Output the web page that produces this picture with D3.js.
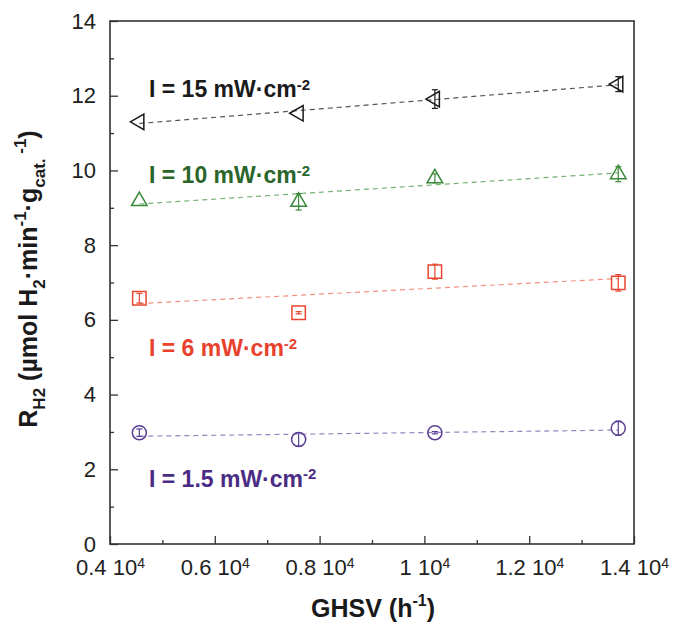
<!DOCTYPE html>
<html>
<head>
<meta charset="utf-8">
<script src="https://cdn.jsdelivr.net/npm/d3@7"></script>
<style>
  body { margin: 0; background: #fff; }
  text { font-family: "Liberation Sans", Arial, sans-serif; }
</style>
</head>
<body>
<div id="chart"></div>
<script>
// GHSV values, in units of 10^4 h^-1
const ghsv = [0.456, 0.76, 1.02, 1.37];

// H2 rates (umol H2 / min / g cat.) and their error bars
const rate15 = [11.3, 11.53, 11.91, 12.31];
const err15 = [0, 0, 0.25, 0.2];
const rate10 = [9.18, 9.16, 9.79, 9.9];
const err10 = [0, 0.22, 0.12, 0.2];
const rate6 = [6.58, 6.19, 7.29, 6.99];
const err6 = [0.13, 0.03, 0.2, 0.22];
const rate1p5 = [2.98, 2.8, 2.98, 3.1];
const err1p5 = [0.1, 0.18, 0.03, 0.19];

const seriesNames = ["15", "10", "6", "1.5"];
const xTicks = [0.4, 0.6, 0.8, 1.0, 1.2, 1.4];
const xTickText = ["0.4", "0.6", "0.8", "1", "1.2", "1.4"];
const yTicks = [0, 2, 4, 6, 8, 10, 12, 14];

// Set up dimensions and margins
const margin = { top: 21, right: 39, bottom: 91, left: 110 };
const width = 673 - margin.left - margin.right;
const height = 635 - margin.top - margin.bottom;

const svg = d3.select("#chart")
    .append("svg")
    .attr("width", 673)
    .attr("height", 635);

const g = svg.append("g")
    .attr("transform", `translate(${margin.left},${margin.top})`);

const x = d3.scaleLinear().domain([0.4, 1.4]).range([0, width]);
const y = d3.scaleLinear().domain([0, 14]).range([height, 0]);

// styles per series
const styles = [
    { rates: rate15, errs: err15, mark: "#1a1a1a", line: "#555", label: "#1a1a1a", shape: "left", labelY: 11.96 },
    { rates: rate10, errs: err10, mark: "#3b8a3b", line: "#72b072", label: "#2a652a", shape: "up", labelY: 9.66 },
    { rates: rate6, errs: err6, mark: "#e8452f", line: "#f2917f", label: "#e8412c", shape: "square", labelY: 5.03 },
    { rates: rate1p5, errs: err1p5, mark: "#5a3e95", line: "#9485c0", label: "#4a2c85", shape: "circle", labelY: 1.53 }
];

// X axis (ticks pointing inward)
const xAxis = g.append("g")
    .attr("transform", `translate(0,${height})`)
    .call(d3.axisBottom(x).tickValues(xTicks).tickSize(-8).tickPadding(15).tickFormat(""));
xAxis.select(".domain").remove();
xAxis.selectAll(".tick line").attr("stroke", "#333").attr("stroke-width", 1.3);
xAxis.selectAll(".tick text").each(function(d, i) {
    const t = d3.select(this)
        .attr("fill", "#222")
        .style("font-size", "22px")
        .attr("dy", "0.71em");
    t.append("tspan").text(xTickText[i] + " 10");
    t.append("tspan").attr("dy", "-0.45em").style("font-size", "14px").text("4");
});

g.append("g")
    .attr("transform", `translate(0,${height})`)
    .call(d3.axisBottom(x).tickValues(d3.range(0.5, 1.4, 0.2)).tickSize(-4).tickFormat(""))
    .call(a => a.select(".domain").remove())
    .selectAll(".tick line").attr("stroke", "#333").attr("stroke-width", 1.3);

// Y axis
const yAxis = g.append("g")
    .call(d3.axisLeft(y).tickValues(yTicks).tickSize(-8).tickPadding(14));
yAxis.select(".domain").remove();
yAxis.selectAll(".tick line").attr("stroke", "#333").attr("stroke-width", 1.3);
yAxis.selectAll(".tick text")
    .attr("fill", "#222")
    .style("font-size", "22px");

g.append("g")
    .call(d3.axisLeft(y).tickValues(d3.range(1, 14, 2)).tickSize(-4).tickFormat(""))
    .call(a => a.select(".domain").remove())
    .selectAll(".tick line").attr("stroke", "#333").attr("stroke-width", 1.3);

// frame
g.append("rect")
    .attr("width", width)
    .attr("height", height)
    .attr("fill", "none")
    .attr("stroke", "#333")
    .attr("stroke-width", 1.6);

// marker shapes
function markerPath(shape) {
    if (shape === "left") return d3.symbol(d3.symbolTriangle, 105)();
    if (shape === "up") return d3.symbol(d3.symbolTriangle, 105)();
    if (shape === "square") return d3.symbol(d3.symbolSquare, 180)();
    return d3.symbol(d3.symbolCircle, 155)();
}

styles.forEach((s, si) => {
    const pts = ghsv.map((gx, i) => ({ gx: gx, r: s.rates[i], e: s.errs[i] }));

    // least squares fit line
    const mx = d3.mean(pts, d => d.gx);
    const my = d3.mean(pts, d => d.r);
    const slope = d3.sum(pts, d => (d.gx - mx) * (d.r - my)) / d3.sum(pts, d => (d.gx - mx) ** 2);
    const x0 = ghsv[0], x1 = ghsv[ghsv.length - 1];
    g.append("line")
        .attr("x1", x(x0)).attr("y1", y(my + slope * (x0 - mx)))
        .attr("x2", x(x1)).attr("y2", y(my + slope * (x1 - mx)))
        .attr("stroke", s.line)
        .attr("stroke-width", 1.2)
        .attr("stroke-dasharray", "5,4");

    // error bars
    const eb = g.selectAll(".err" + si)
        .data(pts.filter(d => d.e > 0))
        .enter()
        .append("g")
        .attr("stroke", s.mark)
        .attr("stroke-width", 1.2);
    eb.append("line")
        .attr("x1", d => x(d.gx)).attr("x2", d => x(d.gx))
        .attr("y1", d => y(d.r + d.e)).attr("y2", d => y(d.r - d.e));
    eb.append("line")
        .attr("x1", d => x(d.gx) - 3).attr("x2", d => x(d.gx) + 3)
        .attr("y1", d => y(d.r + d.e)).attr("y2", d => y(d.r + d.e));
    eb.append("line")
        .attr("x1", d => x(d.gx) - 3).attr("x2", d => x(d.gx) + 3)
        .attr("y1", d => y(d.r - d.e)).attr("y2", d => y(d.r - d.e));

    // markers
    g.selectAll(".mk" + si)
        .data(pts)
        .enter()
        .append("path")
        .attr("d", markerPath(s.shape))
        .attr("transform", d => `translate(${x(d.gx)},${y(d.r)})` + (s.shape === "left" ? " rotate(-90)" : ""))
        .attr("fill", "none")
        .attr("stroke", s.mark)
        .attr("stroke-width", 1.5);

    // series label
    const lt = g.append("text")
        .attr("x", 39)
        .attr("y", y(s.labelY))
        .attr("fill", s.label)
        .style("font-size", "23px")
        .style("font-weight", "bold");
    lt.append("tspan").text(`I = ${seriesNames[si]} mW·cm`);
    lt.append("tspan").attr("dy", "-0.5em").style("font-size", "15px").text("-2");
});

// rich text helper for titles with sub/superscripts
function richText(sel, parts, base, small) {
    let offset = 0;
    parts.forEach(p => {
        const target = p.sub ? 0.3 * base : p.sup ? -0.45 * base : 0;
        sel.append("tspan")
            .attr("dy", target - offset)
            .style("font-size", (p.sub || p.sup ? small : base) + "px")
            .text(p.t);
        offset = target;
    });
}

// x axis title
const xt = svg.append("text")
    .attr("x", margin.left + width / 2 + 1)
    .attr("y", 617)
    .attr("text-anchor", "middle")
    .attr("fill", "#1a1a1a")
    .style("font-weight", "bold")
    .style("font-size", "25px");
richText(xt, [{ t: "GHSV (h" }, { t: "-1", sup: true }, { t: ")" }], 25, 16);

// y axis title
const yt = svg.append("text")
    .attr("transform", "translate(37,279) rotate(-90)")
    .attr("text-anchor", "middle")
    .attr("fill", "#1a1a1a")
    .style("font-weight", "bold")
    .style("font-size", "25px");
richText(yt, [
    { t: "R" }, { t: "H2", sub: true }, { t: "  (µmol H" }, { t: "2", sub: true },
    { t: "·min" }, { t: "-1", sup: true }, { t: "·g" }, { t: "cat.", sub: true },
    { t: "  -1", sup: true }, { t: ")" }
], 25, 17);
</script>
</body>
</html>
